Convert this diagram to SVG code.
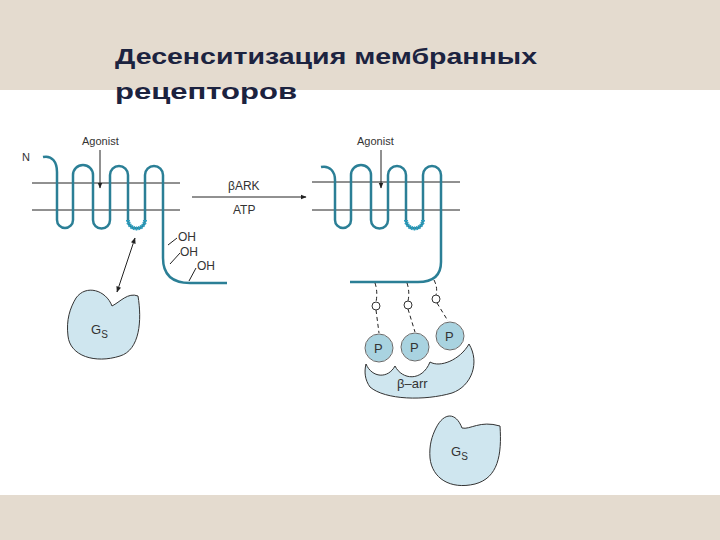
<svg xmlns="http://www.w3.org/2000/svg" width="720" height="540" viewBox="0 0 720 540">
<defs>
<marker id="ah" viewBox="0 0 10 10" refX="9" refY="5" markerWidth="6" markerHeight="6" orient="auto-start-reverse"><path d="M0,1 L10,5 L0,9 Z" fill="#222"/></marker>
<style>
.t{font-family:"Liberation Sans",Arial,sans-serif;fill:#333}
.rec{fill:none;stroke:#2b7f96;stroke-width:2.5}
.mem{stroke:#222;stroke-width:1}
.blob{fill:#cfe6ef;stroke:#333;stroke-width:1}
.p{fill:#a9d3e0;stroke:#fff;stroke-width:3}
.ln{stroke:#222;stroke-width:1;fill:none}
.dash{stroke:#222;stroke-width:1;stroke-dasharray:4,3;fill:none}
</style>
</defs>
<rect width="720" height="540" fill="#e4dbcf"/>
<rect y="90" width="720" height="405" fill="#fff"/>
<text class="t" x="115" y="64" font-size="22" font-weight="bold" textLength="422" lengthAdjust="spacingAndGlyphs" style="fill:#1c2340">Десенситизация  мембранных</text>
<text class="t" x="115" y="99" font-size="22" font-weight="bold" textLength="182" lengthAdjust="spacingAndGlyphs" style="fill:#1c2340">рецепторов</text>
<g id="membranes">
<line class="mem" x1="32" y1="183" x2="180" y2="183"/><line class="mem" x1="32" y1="210" x2="180" y2="210"/>
<line class="mem" x1="312" y1="182" x2="460" y2="182"/><line class="mem" x1="312" y1="210" x2="460" y2="210"/>
</g>
<g id="receptor1">
<path class="rec" d="M43,157 C52,155 57,162 57,172 V220 a8,8 0 0 0 16,0 V175 a10,10 0 0 1 20,0 V220 a8.5,8.5 0 0 0 17,0 V175 a9,9 0 0 1 18,0 V220 a8.5,8.5 0 0 0 17,0 V175 a9,9 0 0 1 18,0 V258 Q163,283 190,283 H227"/>
<path d="M128,220 a8.5,8.5 0 0 0 17,0" fill="none" stroke="#2b9fc0" stroke-width="4" stroke-dasharray="1.5,1"/>
<text class="t" x="22" y="161" font-size="11">N</text>
<text class="t" x="178" y="241" font-size="12">OH</text>
<text class="t" x="180" y="256" font-size="12">OH</text>
<text class="t" x="197" y="270" font-size="12">OH</text>
<path class="ln" d="M168,245 L177,238 M170,264 L180,253 M189,281 L196,268"/>
</g>
<g id="receptor2">
<path class="rec" d="M321,167 C330,165 335,172 335,180 V220 a8,8 0 0 0 16,0 V175 a10,10 0 0 1 20,0 V220 a8.5,8.5 0 0 0 17,0 V175 a9,9 0 0 1 18,0 V220 a8.5,8.5 0 0 0 17,0 V175 a9,9 0 0 1 18,0 V262 Q441,282 418,282 H350"/>
<path d="M406,220 a8.5,8.5 0 0 0 17,0" fill="none" stroke="#2b9fc0" stroke-width="4" stroke-dasharray="1.5,1"/>
</g>
<g id="gs1">
<path class="blob" d="M76,298 C86,284 106,290 112,306 C120,302 128,292 138,296 C142,320 140,350 120,356 C95,364 70,356 68,336 C66,320 70,308 76,298 Z"/>
<text class="t" x="91" y="334" font-size="13">G<tspan font-size="10" dy="4">S</tspan></text>
</g>
<g id="barr">
<path class="blob" d="M366,364 C372,378 388,379 395,366 C402,380 422,382 430,362 C440,368 460,360 469,344 C480,362 472,386 452,393 C425,401 385,400 370,387 C365,380 364,372 366,364 Z"/>
<text class="t" x="397" y="388" font-size="13">β–arr</text>
</g>
<g id="p1"><circle class="p" cx="379" cy="348" r="15"/><circle cx="379" cy="348" r="14" fill="none" stroke="#444" stroke-width="0.8"/><text class="t" x="374" y="353" font-size="13">P</text></g>
<g id="p2"><circle class="p" cx="415" cy="347" r="15"/><circle cx="415" cy="347" r="14" fill="none" stroke="#444" stroke-width="0.8"/><text class="t" x="410" y="352" font-size="13">P</text></g>
<g id="p3"><circle class="p" cx="450" cy="336" r="15"/><circle cx="450" cy="336" r="14" fill="none" stroke="#444" stroke-width="0.8"/><text class="t" x="445" y="341" font-size="13">P</text></g>
<g id="o-groups" fill="none" stroke="#333" stroke-width="1">
<circle cx="376" cy="306" r="4"/><circle cx="408" cy="305" r="4"/><circle cx="436" cy="299" r="4"/>
</g>
<g id="gs2">
<path class="blob" d="M436,428 C444,412 456,412 462,428 C470,430 480,420 500,426 C502,455 498,478 475,484 C450,490 432,478 430,458 C429,445 432,436 436,428 Z"/>
<text class="t" x="451" y="456" font-size="13">G<tspan font-size="10" dy="4">S</tspan></text>
</g>
<g id="connectors">
<text class="t" x="82" y="145" font-size="11">Agonist</text>
<line class="ln" x1="100" y1="150" x2="100" y2="188" marker-end="url(#ah)"/>
<text class="t" x="357" y="145" font-size="11">Agonist</text>
<line class="ln" x1="381" y1="150" x2="381" y2="188" marker-end="url(#ah)"/>
<line class="ln" x1="135" y1="238" x2="117" y2="292" marker-start="url(#ah)" marker-end="url(#ah)"/>
<line class="ln" x1="192" y1="197" x2="306" y2="197" marker-end="url(#ah)"/>
<text class="t" x="228" y="190" font-size="12">βARK</text>
<text class="t" x="233" y="214" font-size="12">ATP</text>
<path class="dash" d="M375,283 Q378,292 376,302 M407,283 Q410,292 408,301 M434,280 Q438,288 436,295"/>
<path class="dash" d="M376,310 L379,333 M408,309 L415,332 M437,303 L448,321"/>
</g>
</svg>
